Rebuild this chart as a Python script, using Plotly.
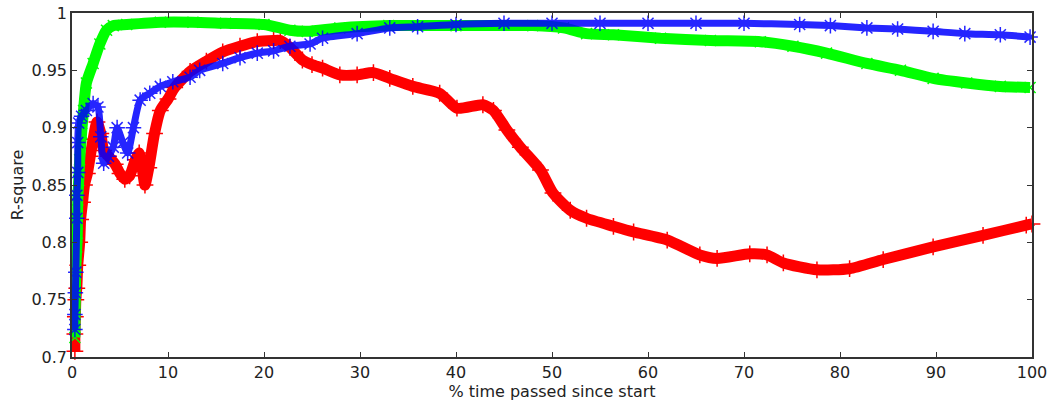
import plotly.graph_objects as go

# ---- data ----
red_x = [0.3, 0.3, 0.35, 0.4, 0.5, 0.6, 0.8, 0.9, 1.1, 1.3, 1.6, 1.9, 2.2, 2.6, 3.0, 3.3, 3.8, 4.5, 5.0, 5.5,
         6.0, 6.6, 7.0, 7.3, 7.6, 8.0, 8.6, 9.2, 10.0, 10.7, 12.3, 14.0, 15.7, 17.5, 19.3, 21.0, 21.7, 22.7,
         24.0, 25.0, 26.1, 27.9, 29.7, 31.4, 33.1, 35.5, 38.3, 40.1, 42.8, 43.9, 45.3, 46.7, 48.8, 50.1, 51.9,
         53.6, 56.4, 58.5, 62.0, 65.4, 67.2, 70.6, 72.4, 74.1, 77.6, 81.0, 84.5, 89.7, 94.9, 99.4, 100.0]
red_y = [0.705, 0.72, 0.735, 0.75, 0.76, 0.78, 0.80, 0.82, 0.835, 0.85, 0.86, 0.875, 0.89, 0.905, 0.895, 0.88,
         0.875, 0.868, 0.86, 0.855, 0.858, 0.872, 0.878, 0.865, 0.85, 0.865, 0.895, 0.915, 0.925, 0.935, 0.949,
         0.958, 0.966, 0.971, 0.975, 0.976, 0.976, 0.970, 0.959, 0.955, 0.952, 0.946, 0.946, 0.948, 0.943, 0.936,
         0.930, 0.917, 0.920, 0.915, 0.898, 0.883, 0.863, 0.843, 0.828, 0.821, 0.814, 0.809, 0.802, 0.789, 0.786,
         0.790, 0.789, 0.782, 0.776, 0.777, 0.785, 0.796, 0.806, 0.815, 0.816]

green_x = [0.3, 0.4, 0.5, 0.55, 0.6, 0.7, 0.8, 1.0, 1.2, 1.5, 2.2, 2.9, 3.6, 4.3, 5.7, 9.2, 12.6, 16.0, 20.0,
           22.7, 24.5, 27.9, 33.0, 40.0, 48.0, 51.2, 53.6, 56.4, 61.3, 66.5, 71.7, 75.1, 78.6, 82.8, 86.3, 89.7,
           93.2, 96.7, 99.8]
green_y = [0.717, 0.779, 0.796, 0.808, 0.837, 0.854, 0.872, 0.895, 0.915, 0.939, 0.956, 0.973, 0.985, 0.989,
           0.990, 0.992, 0.992, 0.991, 0.990, 0.985, 0.984, 0.987, 0.989, 0.989, 0.989, 0.987, 0.982, 0.981, 0.978,
           0.976, 0.975, 0.971, 0.965, 0.956, 0.950, 0.943, 0.939, 0.936, 0.935]

blue_x = [0.3, 0.3, 0.35, 0.4, 0.5, 0.5, 0.6, 0.6, 0.7, 1.0, 1.5, 2.2, 2.7, 3.0, 3.3, 3.8, 4.3, 4.7, 5.3, 5.8,
          6.4, 7.1, 8.1, 9.2, 10.5, 12.3, 13.3, 15.7, 17.5, 19.3, 21.0, 22.7, 24.8, 26.1, 29.7, 33.1, 36.0, 40.0,
          45.0, 50.0, 55.0, 60.0, 65.0, 70.0, 75.8, 79.0, 82.8, 86.0, 89.7, 93.0, 96.7, 99.8]
blue_y = [0.724, 0.737, 0.756, 0.774, 0.821, 0.841, 0.861, 0.887, 0.904, 0.910, 0.915, 0.921, 0.918, 0.892,
          0.869, 0.875, 0.883, 0.900, 0.887, 0.878, 0.900, 0.924, 0.930, 0.936, 0.940, 0.944, 0.950, 0.956, 0.961,
          0.965, 0.967, 0.971, 0.973, 0.978, 0.982, 0.987, 0.988, 0.990, 0.991, 0.991, 0.991, 0.991, 0.991, 0.991,
          0.990, 0.989, 0.987, 0.986, 0.984, 0.982, 0.981, 0.979]

x_ticks = [0, 10, 20, 30, 40, 50, 60, 70, 80, 90, 100]
y_ticks = [0.7, 0.75, 0.8, 0.85, 0.9, 0.95, 1.0]
y_tick_labels = ["0.7", "0.75", "0.8", "0.85", "0.9", "0.95", "1"]

fig = go.Figure()

series = [
    (red_x, red_y, "#ff0000", "cross-thin", 12, 11, 1.0),
    (green_x, green_y, "#00ff00", "x-thin", 11, 11, 1.0),
    (blue_x, blue_y, "#0000ff", "asterisk", 13, 7, 0.85),
]
for xs, ys, col, sym, msize, lw, op in series:
    fig.add_trace(go.Scatter(
        x=xs, y=ys, mode="lines+markers", opacity=op,
        line=dict(color=col, width=lw, shape="spline", smoothing=0.6),
        marker=dict(symbol=sym, size=msize, color=col, line=dict(color=col, width=1.5)),
        cliponaxis=False, showlegend=False, hoverinfo="skip"))

font = dict(family="DejaVu Sans", size=16, color="#222222")
axis_common = dict(showline=True, linecolor="#333333", linewidth=1.5, mirror="ticks",
                   ticks="inside", ticklen=5, tickcolor="#333333", showgrid=False, zeroline=False,
                   tickfont=font, automargin=False)

fig.update_xaxes(range=[0, 100], tickvals=x_ticks,
                 title=dict(text="% time passed since start", font=font, standoff=2),
                 **axis_common)
fig.update_yaxes(range=[0.7, 1.0], tickvals=y_ticks, ticktext=y_tick_labels,
                 title=dict(text="R-square", font=font, standoff=4),
                 **axis_common)

fig.update_layout(width=1049, height=407, margin=dict(l=72, r=17, t=13, b=50),
                  plot_bgcolor="white", paper_bgcolor="white")

fig.write_html("out.html")
